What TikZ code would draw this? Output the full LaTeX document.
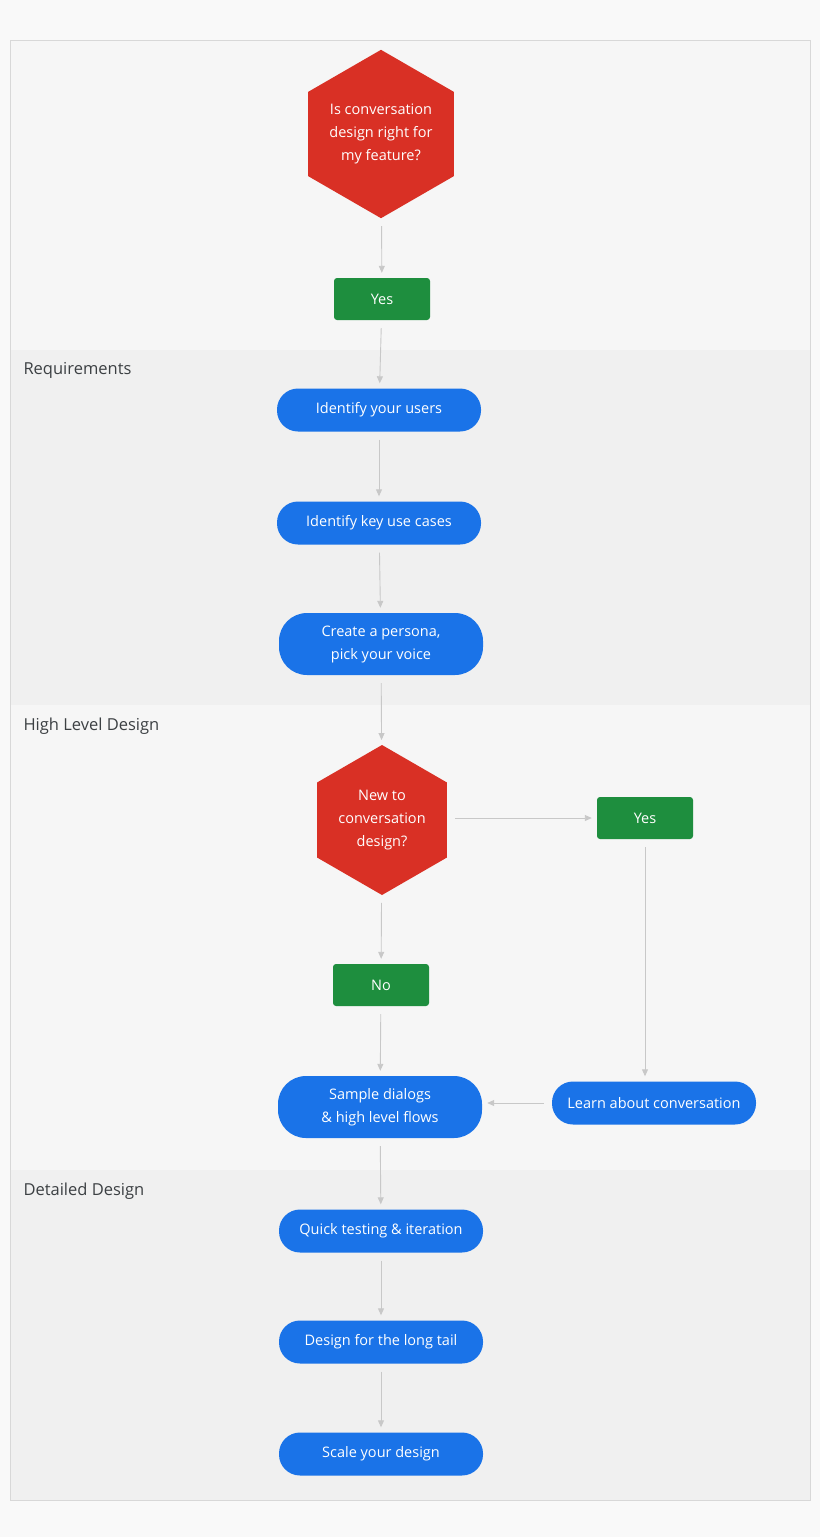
\documentclass[tikz,border=0pt]{standalone}
\usepackage{fontspec}
\setmainfont{Open Sans}
\usetikzlibrary{shapes.geometric,arrows.meta}
\definecolor{gred}{HTML}{D93025}
\definecolor{ggreen}{HTML}{1E8E3E}
\definecolor{gblue}{HTML}{1A73E8}
\definecolor{lineg}{HTML}{C8C8C8}
\definecolor{bandA}{HTML}{F6F6F6}
\definecolor{bandB}{HTML}{F0F0F0}
\definecolor{labelg}{HTML}{3C4043}
\begin{document}
\begin{tikzpicture}[x=1pt,y=-1pt,
    every node/.style={font=\fontsize{14.5}{23}\selectfont\color{white}, align=center},
    decision/.style={regular polygon, regular polygon sides=6, shape border rotate=30,
        minimum size=150pt, inner sep=0pt, fill=gred},
    answer/.style={rectangle, rounded corners=3pt, fill=ggreen, minimum width=96pt, minimum height=42pt},
    pill/.style={rectangle, rounded corners=21pt, fill=gblue, minimum width=204pt, minimum height=43pt},
    tallpill/.style={pill, minimum height=62pt, rounded corners=28pt},
    band/.style={font=\fontsize{16.5}{20}\selectfont\color{labelg}, anchor=west},
    flow/.style={draw=lineg, line width=0.9pt, -{Triangle[length=7pt,width=6pt]}, shorten <=8pt, shorten >=5pt}]
    \fill[bandA!70!white] (0,0) rectangle (820,1537);
    \fill[bandA] (10,40) rectangle (810,350);
    \fill[bandB] (10,350) rectangle (810,705);
    \fill[bandA] (10,705) rectangle (810,1170);
    \fill[bandB] (10,1170) rectangle (810,1500);
    \draw[lineg!70!white] (10,40) rectangle (810,1500);
    \node[band] (req) at (20,370) {Requirements};
    \node[band] (hld) at (20,726) {High Level Design};
    \node[band] (dd) at (20,1191) {Detailed Design};
    % top
    \node[decision] (q1) at (381,134) {Is conversation\\design right for\\my feature?};
    \node[answer] (y1) at (382,299) {Yes};
    % requirements
    \node[pill] (users) at (379,410) {Identify your users};
    \node[pill] (cases) at (379,523) {Identify key use cases};
    \node[tallpill] (persona) at (381,644) {Create a persona,\\pick your voice};
    % high level design
    \node[decision] (q2) at (382,820) {New to\\conversation\\design?};
    \node[answer] (y2) at (645,818) {Yes};
    \node[answer] (no) at (381,985) {No};
    \node[tallpill] (sample) at (380,1107) {Sample dialogs\\\& high level flows};
    \node[pill] (learn) at (654,1103) {Learn about conversation};
    % detailed design
    \node[pill] (quick) at (381,1231) {Quick testing \& iteration};
    \node[pill] (tail) at (381,1342) {Design for the long tail};
    \node[pill] (scale) at (381,1454) {Scale your design};
    %%%%
    \draw[flow] (q1) -- (y1);
    \draw[flow] (y1) -- (users);
    \draw[flow] (users) -- (cases);
    \draw[flow] (cases) -- (persona);
    \draw[flow] (persona) -- (q2);
    \draw[flow] (q2.east |- y2) -- (y2);
    \draw[flow] (q2) -- (no);
    \draw[flow] (no) -- (sample);
    \draw[flow] (y2) -- (y2 |- learn.north);
    \draw[flow] (learn) -- (sample.east |- learn);
    \draw[flow] (sample) -- (quick);
    \draw[flow] (quick) -- (tail);
    \draw[flow] (tail) -- (scale);
\end{tikzpicture}
\end{document}
